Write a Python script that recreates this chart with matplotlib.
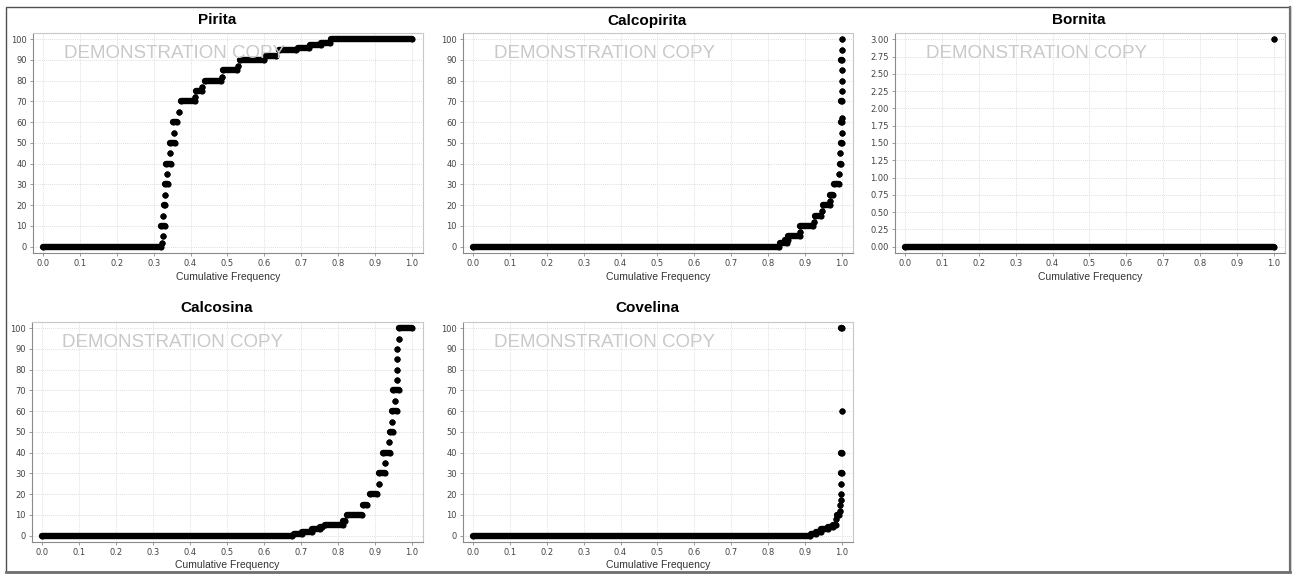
import matplotlib
matplotlib.use("Agg")
import matplotlib.pyplot as plt
from matplotlib.patches import Rectangle
from matplotlib.lines import Line2D

W, H = 1298, 574

# Quantile plots: each step is a value held between two cumulative frequencies
pirita_values = [0, 2, 5, 10, 15, 20, 25, 30, 35, 40, 45, 50, 55, 60, 65,
                 70, 72, 75, 77, 80, 82, 85, 87, 90, 92, 95, 96, 97, 98, 100]
pirita_start = [0.0, 0.323, 0.324, 0.321, 0.325, 0.327, 0.330, 0.330, 0.336, 0.334,
                0.345, 0.343, 0.354, 0.352, 0.370, 0.375, 0.413, 0.415, 0.432,
                0.438, 0.486, 0.489, 0.528, 0.533, 0.605, 0.641, 0.690, 0.723,
                0.754, 0.780]
pirita_end = [0.321, 0.323, 0.325, 0.330, 0.325, 0.330, 0.330, 0.339, 0.336, 0.348,
              0.345, 0.357, 0.354, 0.363, 0.370, 0.411, 0.413, 0.430, 0.432,
              0.483, 0.486, 0.526, 0.528, 0.600, 0.632, 0.687, 0.720, 0.754,
              0.777, 1.0]

calcopirita_values = [0, 2, 3, 5, 7, 10, 12, 15, 17, 20, 22, 25, 30, 35, 40, 45,
                      50, 55, 60, 62, 70, 75, 80, 85, 90, 95, 100]
calcopirita_start = [0.0, 0.832, 0.845, 0.854, 0.886, 0.887, 0.923, 0.926, 0.947,
                     0.949, 0.967, 0.969, 0.978, 0.992, 0.994, 0.995, 0.998, 1.0,
                     0.998, 1.0, 0.998, 1.0, 1.0, 1.0, 0.998, 1.0, 1.0]
calcopirita_end = [0.830, 0.850, 0.855, 0.886, 0.886, 0.922, 0.923, 0.944, 0.947,
                   0.967, 0.967, 0.977, 0.992, 0.992, 0.998, 0.995, 1.0, 1.0,
                   1.0, 1.0, 1.0, 1.0, 1.0, 1.0, 1.0, 1.0, 1.0]

bornita_values = [0.0, 3.0]
bornita_start = [0.0, 1.0]
bornita_end = [1.0, 1.0]

calcosina_values = [0, 1, 2, 3, 4, 5, 7, 10, 15, 20, 25, 30, 35, 40, 45, 50,
                    55, 60, 65, 70, 75, 80, 85, 90, 95, 100]
calcosina_start = [0.0, 0.680, 0.703, 0.730, 0.752, 0.766, 0.815, 0.824, 0.869,
                   0.887, 0.910, 0.910, 0.928, 0.923, 0.937, 0.941, 0.946, 0.946,
                   0.955, 0.950, 0.959, 0.959, 0.959, 0.960, 0.964, 0.964]
calcosina_end = [0.676, 0.703, 0.730, 0.752, 0.757, 0.815, 0.820, 0.865, 0.878,
                 0.905, 0.910, 0.928, 0.928, 0.941, 0.937, 0.950, 0.946, 0.959,
                 0.955, 0.964, 0.959, 0.959, 0.959, 0.960, 0.964, 1.0]

covelina_values = [0, 1, 2, 3, 4, 5, 8, 10, 12, 15, 17, 20, 25, 30, 40, 60, 100]
covelina_start = [0.0, 0.917, 0.930, 0.944, 0.962, 0.976, 0.985, 0.987, 0.994,
                  0.996, 0.997, 0.998, 0.998, 0.998, 0.998, 1.0, 0.998]
covelina_end = [0.913, 0.930, 0.944, 0.962, 0.976, 0.983, 0.985, 0.992, 0.994,
                0.996, 0.997, 0.998, 0.998, 1.0, 1.0, 1.0, 1.0]

pct_ticks = [0, 10, 20, 30, 40, 50, 60, 70, 80, 90, 100]
bornita_ticks = [0.0, 0.25, 0.5, 0.75, 1.0, 1.25, 1.5, 1.75, 2.0, 2.25, 2.5, 2.75, 3.0]
x_ticks = [0.0, 0.1, 0.2, 0.3, 0.4, 0.5, 0.6, 0.7, 0.8, 0.9, 1.0]

panels = [
    ("Pirita", pirita_values, pirita_start, pirita_end,
     (33, 33, 423, 253), (-3.04, 103.0), pct_ticks, "{:.0f}", 12.5, 277),
    ("Calcopirita", calcopirita_values, calcopirita_start, calcopirita_end,
     (463, 33, 853, 253), (-3.04, 103.0), pct_ticks, "{:.0f}", 12.5, 277),
    ("Bornita", bornita_values, bornita_start, bornita_end,
     (895, 33, 1285, 253), (-0.0912, 3.09), bornita_ticks, "{:.2f}", 12.5, 277),
    ("Calcosina", calcosina_values, calcosina_start, calcosina_end,
     (32, 322, 423, 542), (-3.04, 103.0), pct_ticks, "{:.0f}", 14, 565),
    ("Covelina", covelina_values, covelina_start, covelina_end,
     (463, 322, 853, 542), (-3.04, 103.0), pct_ticks, "{:.0f}", 14, 565),
]

fig = plt.figure(figsize=(W / 100, H / 100), dpi=100)
fig.patch.set_facecolor("white")


def fx(px):
    return px / W


def fy(py):
    return 1 - py / H


for (title, vals, f0, f1, (l, t, r, b), ylim, yticks, fmt, tpad, xlab_y) in panels:
    ax = fig.add_axes([fx(l), fy(b), (r - l) / W, (b - t) / H])
    ax.set_xlim(-0.027, 1.030)
    ax.set_ylim(*ylim)
    ax.set_xticks(x_ticks)
    ax.set_xticklabels(["{:.1f}".format(v) for v in x_ticks])
    ax.set_yticks(yticks)
    ax.set_yticklabels([fmt.format(v) for v in yticks])
    ax.set_axisbelow(True)
    ax.grid(True, color="#d4d4d4", linestyle=(0, (1, 1.5)), linewidth=0.6)
    for side in ("top", "right"):
        ax.spines[side].set_color("#c8c8c8")
        ax.spines[side].set_linewidth(0.8)
    for side in ("left", "bottom"):
        ax.spines[side].set_color("#8a8a8a")
        ax.spines[side].set_linewidth(0.8)
    ax.tick_params(direction="out", length=2.5, width=0.6, color="#8a8a8a",
                   labelsize=6, labelcolor="#444444", pad=2)

    # steps as thick round-capped segments plus dots at both ends
    ax.hlines(vals, f0, f1, colors="black", linewidth=4.6, capstyle="round",
              zorder=3)
    ax.scatter(list(f0) + list(f1), list(vals) + list(vals), s=19.5,
               c="black", linewidths=0, zorder=3)

    fig.text(fx(l + 30.5), fy(t + 20.5), "DEMONSTRATION COPY",
             family="Liberation Sans", fontsize=13.5, color="#c9c9c9",
             ha="left", va="center", zorder=5)
    fig.text(fx((l + r) / 2 - 11), fy(t - tpad), title,
             family="Liberation Sans", fontsize=11, fontweight="bold",
             color="black", ha="center", va="center")
    fig.text(fx((l + r) / 2), fy(xlab_y), "Cumulative Frequency",
             family="Liberation Sans", fontsize=7.5, color="#333333",
             ha="center", va="center")

# outer frame
fig.add_artist(Rectangle((fx(6), fy(572)), (1290 - 6) / W, (572 - 7) / H,
                         transform=fig.transFigure, fill=False,
                         edgecolor="#505050", linewidth=1.0))
fig.add_artist(Line2D([fx(6), fx(1290)], [fy(572), fy(572)],
                      transform=fig.transFigure, color="#707070", linewidth=2.0))
fig.add_artist(Line2D([fx(1290), fx(1290)], [fy(7), fy(572)],
                      transform=fig.transFigure, color="#707070", linewidth=1.6))

fig.savefig("out.png", dpi=100, facecolor="white")
